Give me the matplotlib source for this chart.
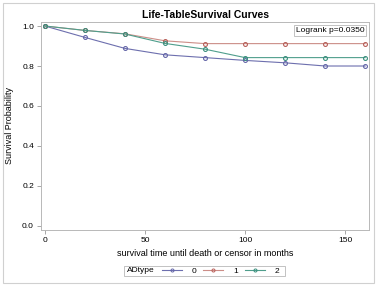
import matplotlib
matplotlib.use("Agg")
import matplotlib.pyplot as plt
from matplotlib.lines import Line2D
from matplotlib.patches import Rectangle

# life-table survival estimates
months = [0, 20, 40, 60, 80, 100, 120, 140, 160]
surv_0 = [1.0, 0.943, 0.888, 0.856, 0.842, 0.828, 0.816, 0.800, 0.800]
surv_1 = [1.0, 0.978, 0.961, 0.926, 0.912, 0.912, 0.912, 0.912, 0.912]
surv_2 = [1.0, 0.978, 0.960, 0.913, 0.884, 0.842, 0.842, 0.842, 0.842]
groups = ["0", "1", "2"]
line_colors = ["#6d6fae", "#cc8e88", "#4f9e8c"]
mark_colors = ["#6466a8", "#b9605a", "#3a8f7d"]

plt.rcParams["font.family"] = ["Liberation Sans", "DejaVu Sans"]

fig = plt.figure(figsize=(3.79, 2.86), dpi=100)
ax = fig.add_axes([0.108, 0.196, 0.866, 0.727])

for ys, lc, mc, g in zip([surv_0, surv_1, surv_2], line_colors, mark_colors, groups):
    ax.plot(months, ys, color=lc, lw=0.8, marker="o", ms=2.8, mfc="none",
            mec=mc, mew=0.8, label=g)

ax.set_xlim(-2, 162)
ax.set_ylim(-0.02, 1.02)
ax.set_xticks([0, 50, 100, 150])
ax.set_yticks([0.0, 0.2, 0.4, 0.6, 0.8, 1.0])
ax.set_yticklabels(["0.0", "0.2", "0.4", "0.6", "0.8", "1.0"])
ax.tick_params(labelsize=6, length=3, width=0.6, color="#999999", pad=2)
for s in ax.spines.values():
    s.set_color("#b8b8b8")
    s.set_linewidth(0.7)

ax.set_xlabel("survival time until death or censor in months", fontsize=6.5, labelpad=4)
ax.set_ylabel("Survival Probability", fontsize=6.5, labelpad=6)
ax.set_title("Life-TableSurvival Curves", fontsize=7.5, fontweight="bold", pad=3)

ax.text(0.985, 0.975, "Logrank p=0.0350", transform=ax.transAxes, ha="right",
        va="top", fontsize=6,
        bbox=dict(boxstyle="square,pad=0.25", fc="white", ec="#b8b8b8", lw=0.6))

# legend strip below the axes
W, H = 379, 286
fig.patches.append(Rectangle((124 / W, 1 - 276 / H), 161 / W, 10 / H,
                             transform=fig.transFigure, fill=False,
                             ec="#b8b8b8", lw=0.6))
fig.text(127 / W, 1 - 271 / H, "ADtype", fontsize=6, va="center")
handles = [Line2D([], [], color=lc, lw=0.8, marker="o", ms=2.2, mfc="none",
                  mec=mc, mew=0.7) for lc, mc in zip(line_colors, mark_colors)]
fig.legend(handles, groups, ncol=3, frameon=False, fontsize=6,
           loc="center left", bbox_to_anchor=(162 / W, 1 - 271 / H),
           handlelength=2.4, handletextpad=1.2, columnspacing=0.8,
           borderpad=0, borderaxespad=0)

# outer frame
fig.patches.append(Rectangle((3 / W, 3 / H), 371 / W, 280 / H,
                             transform=fig.transFigure, fill=False,
                             ec="#d0d0d0", lw=0.8))

fig.savefig("out.png", dpi=100)
